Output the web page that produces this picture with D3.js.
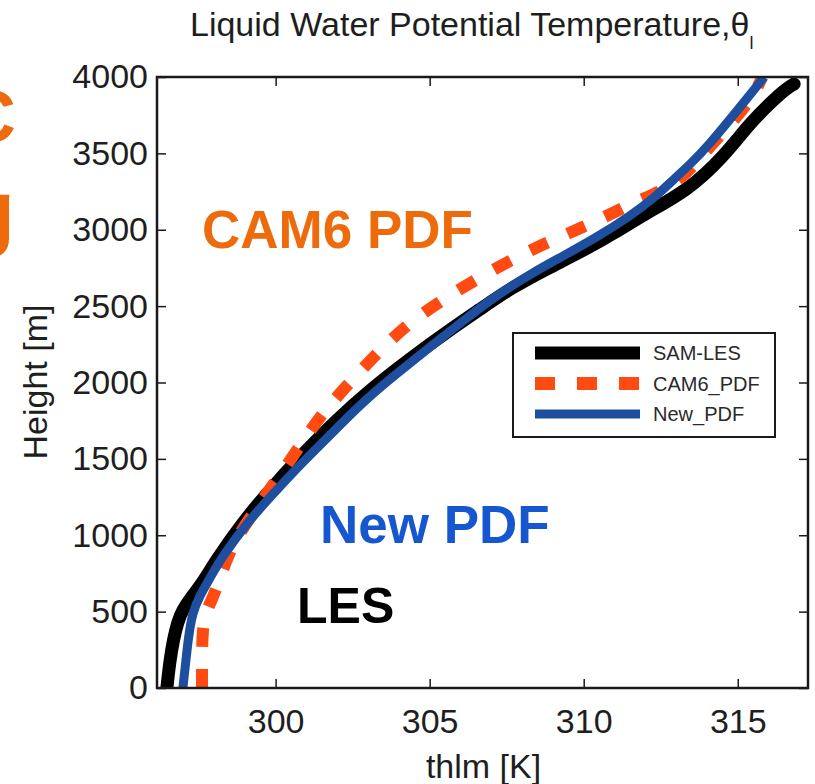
<!DOCTYPE html>
<html>
<head>
<meta charset="utf-8">
<script src="https://cdn.jsdelivr.net/npm/d3@7"></script>
<style>
  body { margin: 0; background: #fff; }
  svg { display: block; font-family: "Liberation Sans", Arial, Helvetica, sans-serif; }
</style>
</head>
<body>
<div id="chart"></div>
<script>
// profiles: theta_l [K] vs height [m]
var lesT = [296.47, 296.57, 296.68, 296.82, 296.98, 297.25, 297.60, 298.08, 298.86, 299.95, 300.98, 301.95, 303.05, 304.32, 305.55, 306.64, 307.65, 308.85, 309.90, 311.05, 311.95, 313.40, 314.53, 315.40, 316.15, 316.60, 316.83]
var lesZ = [0, 183, 314, 432, 511, 589, 681, 838, 1067, 1329, 1552, 1750, 1950, 2150, 2330, 2480, 2620, 2750, 2854, 2985, 3100, 3260, 3476, 3699, 3849, 3928, 3954]

var cam6T = [297.61, 297.61, 297.64, 297.77, 297.97, 298.20, 298.46, 298.84, 299.27, 299.92, 300.70, 301.51, 302.42, 303.39, 304.36, 305.50, 306.70, 307.94, 309.14, 310.37, 311.57, 313.03, 313.84, 314.69, 315.50, 315.79]
var cam6Z = [0, 249, 412, 511, 596, 720, 871, 1015, 1146, 1329, 1558, 1800, 2003, 2213, 2396, 2553, 2697, 2835, 2946, 3051, 3175, 3293, 3489, 3673, 3869, 4000]

var newT = [296.99, 297.09, 297.16, 297.29, 297.55, 297.87, 298.26, 299.07, 299.82, 300.57, 301.28, 302.12, 302.98, 303.96, 305.01, 306.08, 307.19, 308.26, 309.33, 310.44, 311.51, 312.32, 312.90, 313.46, 314.01, 315.08, 315.86]
var newZ = [0, 183, 314, 491, 609, 720, 858, 1080, 1250, 1414, 1558, 1728, 1899, 2062, 2232, 2403, 2573, 2710, 2828, 2953, 3090, 3214, 3326, 3430, 3542, 3804, 4000]

var xTicks = [300, 305, 310, 315]
var yTicks = [0, 500, 1000, 1500, 2000, 2500, 3000, 3500, 4000]
var seriesNames = ["SAM-LES", "CAM6_PDF", "New_PDF"]

var W = 815, H = 784
var margin = {top: 77, right: 7, bottom: 96, left: 157},
    width = W - margin.left - margin.right,
    height = H - margin.top - margin.bottom

var svg = d3.select("#chart").append("svg")
    .attr("width", W)
    .attr("height", H)

var g = svg.append("g")
    .attr("transform", "translate(" + margin.left + "," + margin.top + ")")

var x = d3.scaleLinear().domain([296.15, 317.28]).range([0, width])
var y = d3.scaleLinear().domain([0, 4000]).range([height, 0])

g.append("clipPath").attr("id", "clip")
  .append("rect").attr("width", width).attr("height", height)

// axes, ticks pointing inwards like matlab
var axisColor = "#1a1a1a"
function styleAxis(sel) {
  sel.select(".domain").remove()
  sel.selectAll("line").attr("stroke", axisColor).attr("stroke-width", 1.5)
  sel.selectAll("text").attr("fill", "#1e1e1e").style("font-size", "34px")
}

g.append("g")
  .attr("transform", "translate(0," + height + ")")
  .call(d3.axisBottom(x).tickValues(xTicks).tickSize(-9).tickPadding(21))
  .call(styleAxis)

g.append("g")
  .call(d3.axisTop(x).tickValues(xTicks).tickSize(-9).tickFormat(""))
  .call(styleAxis)

g.append("g")
  .call(d3.axisLeft(y).tickValues(yTicks).tickSize(-9).tickPadding(9).tickFormat(d3.format("d")))
  .call(styleAxis)

g.append("g")
  .attr("transform", "translate(" + width + ",0)")
  .call(d3.axisRight(y).tickValues(yTicks).tickSize(-9).tickFormat(""))
  .call(styleAxis)

// profiles
var line = d3.line()
    .x(function(d) { return x(d[0]) })
    .y(function(d) { return y(d[1]) })
    .curve(d3.curveBasis)

function pairs(t, z) { return t.map(function(v, i) { return [v, z[i]] }) }

var plot = g.append("g").attr("clip-path", "url(#clip)")

plot.append("path")
  .datum(pairs(lesT, lesZ))
  .attr("d", line)
  .attr("fill", "none")
  .attr("stroke", "#000")
  .attr("stroke-width", 13)
  .attr("stroke-linejoin", "round")
  .attr("stroke-linecap", "round")

plot.append("path")
  .datum(pairs(cam6T, cam6Z))
  .attr("d", line)
  .attr("fill", "none")
  .attr("stroke", "#ff4a12")
  .attr("stroke-width", 12)
  .attr("stroke-dasharray", "19,22")

plot.append("path")
  .datum(pairs(newT, newZ))
  .attr("d", line)
  .attr("fill", "none")
  .attr("stroke", "#1d4f9e")
  .attr("stroke-width", 9)
  .attr("stroke-linejoin", "round")

// box
g.append("rect")
  .attr("width", width)
  .attr("height", height)
  .attr("fill", "none")
  .attr("stroke", axisColor)
  .attr("stroke-width", 2.5)

// axis labels + title
svg.append("text")
  .attr("x", margin.left + width / 2 + 1)
  .attr("y", 778)
  .attr("text-anchor", "middle")
  .attr("fill", "#1e1e1e")
  .style("font-size", "34px")
  .text("thlm [K]")

svg.append("text")
  .attr("transform", "translate(47,382) rotate(-90)")
  .attr("text-anchor", "middle")
  .attr("fill", "#1e1e1e")
  .style("font-size", "34px")
  .text("Height [m]")

var title = svg.append("text")
  .attr("x", 190)
  .attr("y", 36)
  .attr("fill", "#1e1e1e")
  .style("font-size", "34px")
title.append("tspan").text("Liquid Water Potential Temperature,θ")
title.append("tspan").attr("dy", 13).style("font-size", "18px").text("l")

// legend
var legend = svg.append("g").attr("transform", "translate(513,333)")
legend.append("rect")
  .attr("width", 262).attr("height", 104)
  .attr("fill", "#fff").attr("stroke", axisColor).attr("stroke-width", 2)

var legendStyles = [
  {stroke: "#000", width: 13, dash: null},
  {stroke: "#ff4a12", width: 13, dash: "20,22"},
  {stroke: "#1d4f9e", width: 9, dash: null}
]
seriesNames.forEach(function(name, i) {
  var ly = 20 + i * 30.5
  legend.append("line")
    .attr("x1", 22).attr("x2", 127)
    .attr("y1", ly).attr("y2", ly)
    .attr("stroke", legendStyles[i].stroke)
    .attr("stroke-width", legendStyles[i].width)
    .attr("stroke-dasharray", legendStyles[i].dash)
  legend.append("text")
    .attr("x", 140).attr("y", ly)
    .attr("dy", "0.35em")
    .attr("fill", "#2a2a2a")
    .style("font-size", "20px")
    .text(name)
})

// slide annotations
function note(txt, px, py, size, color, anchor) {
  svg.append("text")
    .attr("x", px).attr("y", py)
    .attr("text-anchor", anchor || "start")
    .attr("fill", color)
    .style("font-size", size + "px")
    .style("font-weight", "bold")
    .text(txt)
}
note("CAM6 PDF", 202, 248, 53, "#ed6b0a")
note("New PDF", 320, 543, 53, "#1656cf")
note("LES", 297, 623, 50, "#000")
note("C", 16, 142, 75, "#ed6b0a", "end")
note("g", 15, 240, 85, "#ed6b0a", "end")
</script>
</body>
</html>
